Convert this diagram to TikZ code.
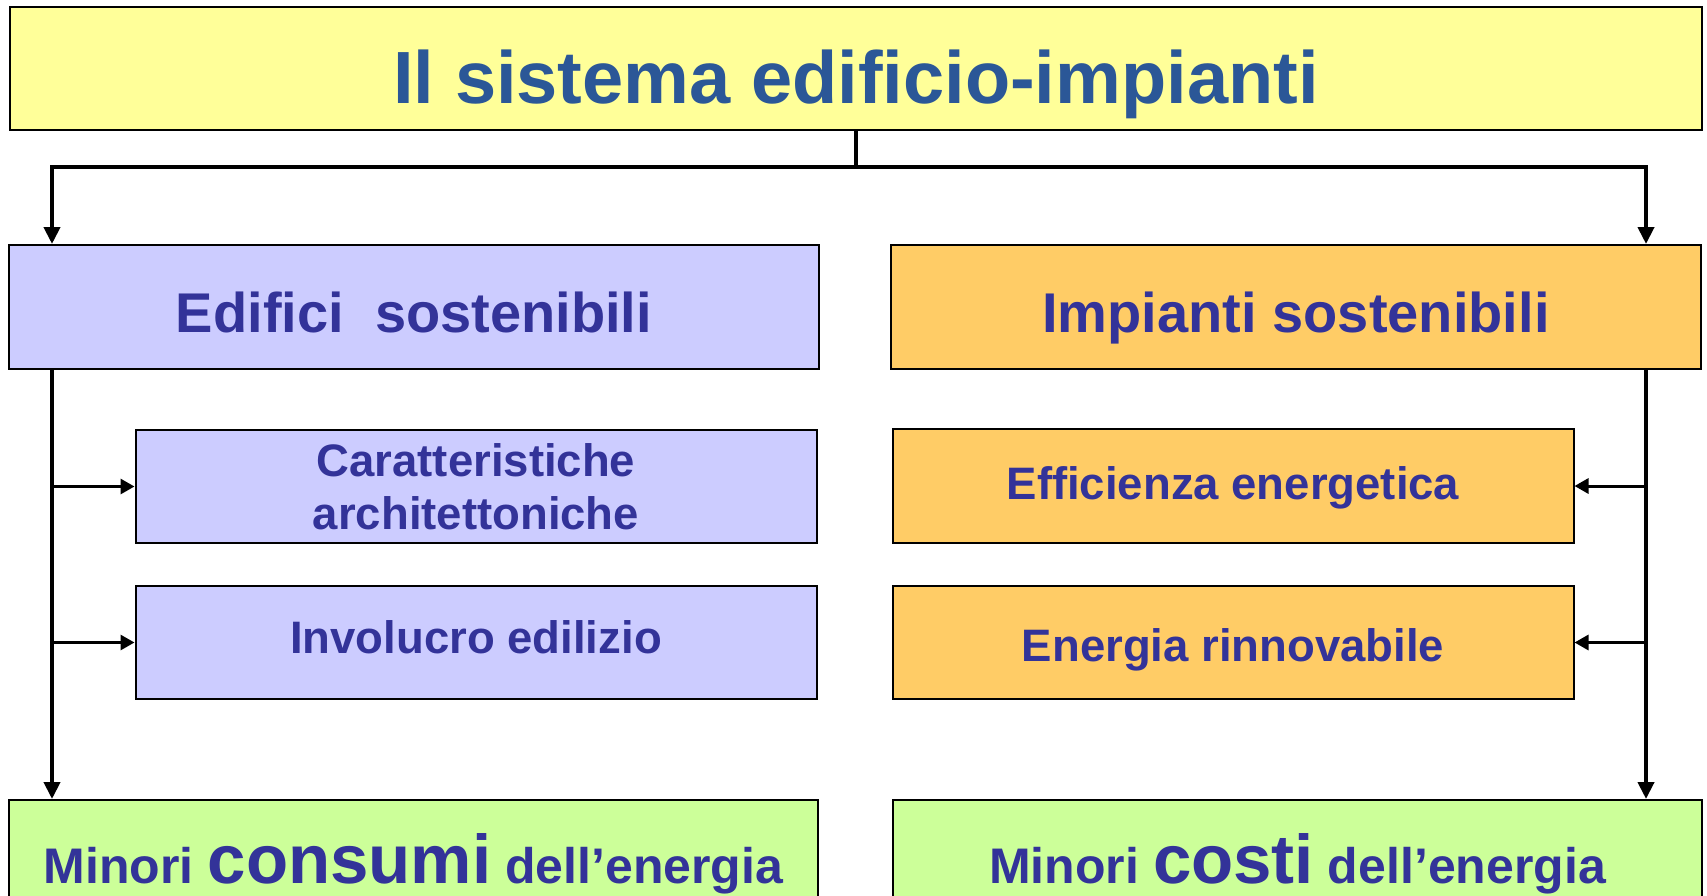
\documentclass[tikz,border=0pt]{standalone}
\usepackage{fontspec}
\setmainfont{Liberation Sans}
\usetikzlibrary{arrows.meta}
\usetikzlibrary{positioning}

\definecolor{titleyellow}{HTML}{FFFF99}
\definecolor{titleblue}{HTML}{2B5797}
\definecolor{lilac}{HTML}{CCCCFF}
\definecolor{amber}{HTML}{FFCC66}
\definecolor{lightgreen}{HTML}{CCFF99}
\definecolor{navy}{HTML}{333399}

\tikzset{
  box/.style={draw, line width=1.5pt, inner sep=0pt, anchor=north, text=navy},
  titlebox/.style={box, fill=titleyellow, text=titleblue, minimum width=1692pt,
    font=\fontsize{74}{80}\selectfont\bfseries},
  headbox/.style={box, fill=#1, minimum width=810pt, text height=88pt, text depth=36pt,
    font=\fontsize{56}{64}\selectfont\bfseries},
  subbox/.style={box, fill=#1, line width=2pt, minimum width=681pt, align=center,
    font=\fontsize{45.5}{53}\selectfont\bfseries},
  resultbox/.style={box, fill=lightgreen, minimum width=809pt, text height=84pt, text depth=60pt,
    font=\fontsize{50}{58}\selectfont\bfseries},
  link/.style={line width=4pt, -{Triangle[length=17pt,width=16pt]}},
  sidelink/.style={line width=3pt, -{Triangle[length=14pt,width=15pt]}},
}

\begin{document}
\begin{tikzpicture}[x=1pt,y=-1pt]
    \clip (0,0) rectangle (1707,895);

    % boxes
    \node[titlebox, text height=97pt, text depth=26pt] (title) at (856,6) {Il sistema edificio-impianti};

    \node[headbox=lilac] (edifici) at (414,244) {Edifici\ \ sostenibili};
    \node[headbox=amber] (impianti) at (1296,244) {Impianti sostenibili};

    \node[subbox=lilac, text height=99pt, text depth=14pt] (caratt) at (476,429) {Caratteristiche\\architettoniche};
    \node[subbox=lilac, text height=67pt, text depth=46pt] (involucro) at (476,585) {Involucro edilizio};
    \node[subbox=amber, text height=70pt, text depth=44pt] (efficienza) at (1233,428) {Efficienza energetica};
    \node[subbox=amber, text height=75pt, text depth=38pt] (rinnovabile) at (1233,585) {Energia rinnovabile};

    \node[resultbox] (consumi) at (413.5,799) {Minori {\fontsize{69}{78}\selectfont consumi} dell'energia};
    \node[resultbox] (costi) at (1297.5,799) {Minori {\fontsize{69}{78}\selectfont costi} dell'energia};

    % rails
    \coordinate (split) at (856,167);
    \coordinate (leftrail) at (52,167);
    \coordinate (rightrail) at (1646,167);

    \draw[line width=4pt] (title.south) -- (split);
    \draw[link] (split) -- (leftrail) -- (leftrail |- edifici.north);
    \draw[link] (split) -- (rightrail) -- (rightrail |- impianti.north);
    \draw[link] (leftrail |- edifici.south) -- (leftrail |- consumi.north);
    \draw[link] (rightrail |- impianti.south) -- (rightrail |- costi.north);

    \draw[sidelink] (leftrail |- caratt.west) -- (caratt.west);
    \draw[sidelink] (leftrail |- involucro.west) -- (involucro.west);
    \draw[sidelink] (rightrail |- efficienza.east) -- (efficienza.east);
    \draw[sidelink] (rightrail |- rinnovabile.east) -- (rinnovabile.east);
\end{tikzpicture}
\end{document}
